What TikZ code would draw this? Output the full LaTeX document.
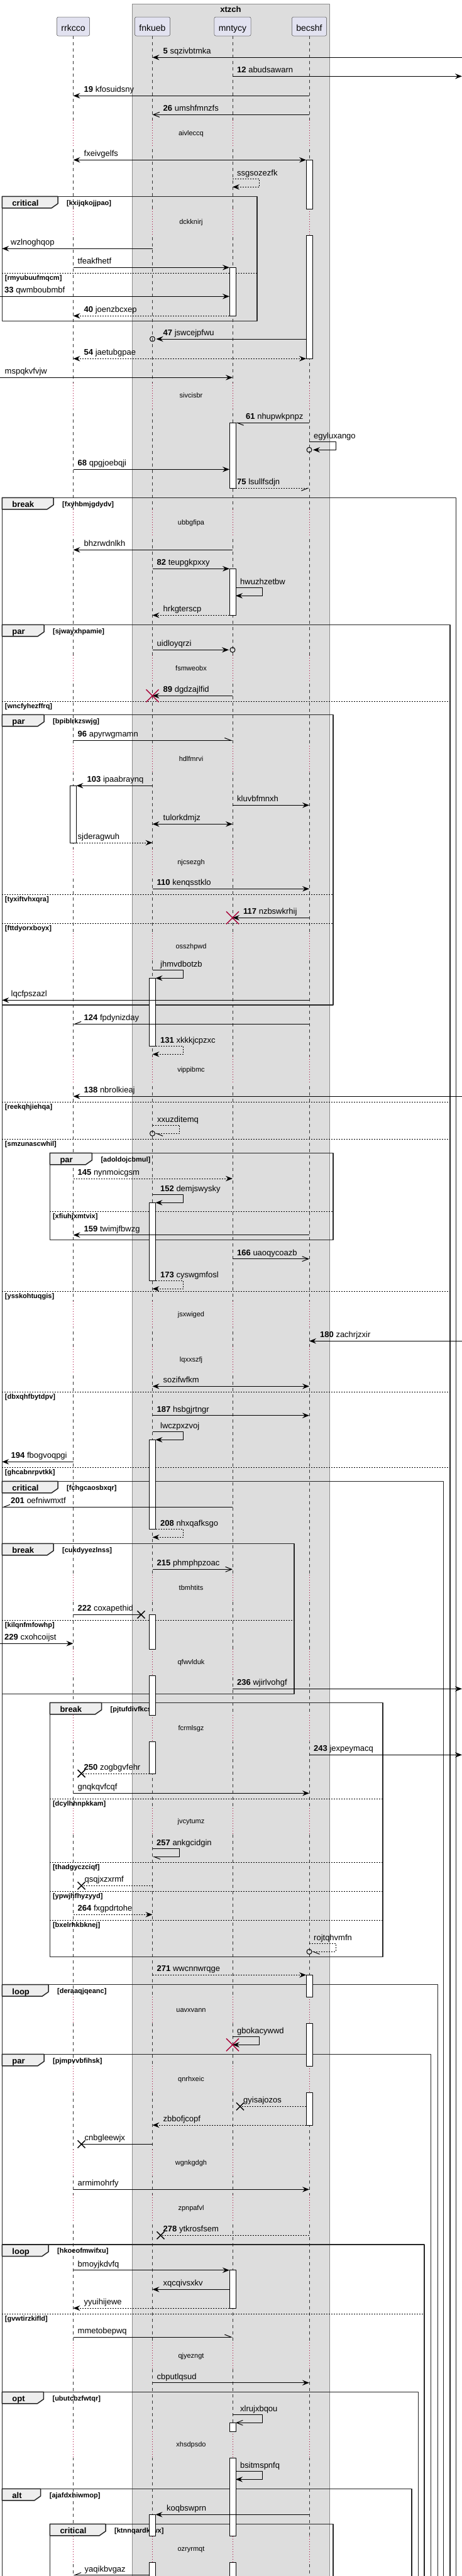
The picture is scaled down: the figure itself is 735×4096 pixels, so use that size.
\documentclass[tikz,border=0pt]{standalone}
\usepackage{fontspec}
\setmainfont{Liberation Sans}
\usetikzlibrary{arrows.meta}
\definecolor{boxgray}{HTML}{DDDDDD}
\definecolor{partfill}{HTML}{E2E2F0}
\definecolor{tabfill}{HTML}{EEEEEE}
\definecolor{dlyred}{HTML}{A80036}
\def\xL{0} \def\xG{3.3} \def\xR{116.5} \def\xF{242.5} \def\xM{370} \def\xB{492} \def\xE{735}
\newcounter{msgno}\newcounter{dlyno}\newcounter{grpno}
\tikzset{
  msgline/.style={line width=1pt},
  dsh/.style={dash pattern=on 2pt off 2pt},
  fa/.style={-{Stealth[length=11pt,width=8.5pt,inset=4pt]}},
  fb/.style={{Stealth[length=11pt,width=8.5pt,inset=4pt]}-{Stealth[length=11pt,width=8.5pt,inset=4pt]}},
  oa/.style={-{Straight Barb[length=10pt,width=8pt]}},
  hl/.style={-{Straight Barb[left,length=10pt,width=8pt]}},
  hr/.style={-{Straight Barb[right,length=10pt,width=8pt]}},
  lbl/.style={font=\fontsize{13}{15}\selectfont, anchor=base west, inner sep=0pt},
  part/.style={draw=black!70, line width=0.5pt, fill=partfill, rounded corners=2.5pt, minimum height=30pt,
    inner xsep=7pt, inner ysep=0pt, text height=16pt, text depth=2pt, font=\fontsize{14}{16}\selectfont},
  life/.style={line width=0.5pt, black!80, dash pattern=on 5pt off 5pt},
  dlyline/.style={line width=0.8pt, dlyred, dash pattern=on 1pt off 3pt},
  dlytxt/.style={font=\fontsize{11}{13}\selectfont, anchor=base, inner sep=0pt},
  actbox/.style={draw=black, fill=white, line width=1pt},
  frm/.style={line width=1.5pt, draw=black!85},
  kindlbl/.style={font=\bfseries\fontsize{13}{15}\selectfont, anchor=base west, inner sep=0pt},
  guardlbl/.style={font=\bfseries\fontsize{11}{13}\selectfont, anchor=west, inner sep=0pt},
  sepline/.style={line width=1pt, dash pattern=on 2pt off 2pt},
  redx/.style={draw=dlyred, line width=1.5pt},
  blkx/.style={draw=black, line width=1.5pt},
}
\newcommand\seqmsg[6][]{%
  \draw[msgline,#1] (#3,#2) -- (#4,#2);
  \stepcounter{msgno}%
  \node[lbl] (m\arabic{msgno}) at (#5,#2-5.5) {#6};}
\newcommand\selfmsg[7][]{%
  \draw[msgline,#1] (#3,#2) -- (#4,#2) -- (#4,#2+13) -- (#5,#2+13);
  \stepcounter{msgno}%
  \node[lbl] (m\arabic{msgno}) at (#6,#2-4.5) {#7};}
\newcommand\actbar[3]{\draw[actbox] (#1-5,#2) rectangle (#1+5,#3);}
\newcommand\dly[2]{%
  \foreach \lx/\bg in {\xR/white,\xF/boxgray,\xM/boxgray,\xB/boxgray}{%
    \fill[\bg] (\lx-1.5,#1-21) rectangle (\lx+1.5,#1+21);
    \draw[dlyline] (\lx,#1-21) -- (\lx,#1+21);}
  \stepcounter{dlyno}%
  \node[dlytxt] (d\arabic{dlyno}) at (304,#1+3) {#2};}
\newcommand\grp[7]{%
  \draw[frm] (#1,#2) rectangle (#3,#4);
  \draw[frm,fill=tabfill] (#1,#2) -- (#5,#2) -- (#5,#2+11.5) -- (#5-10,#2+18.5) -- (#1,#2+18.5) -- cycle;
  \stepcounter{grpno}%
  \node[kindlbl] (k\arabic{grpno}) at (#1+16,#2+15.5) {#6};
  \node[guardlbl] (g\arabic{grpno}) at (#5+14,#2+11) {#7};}
\newcommand\grpsep[4]{%
  \draw[sepline] (#1,#3) -- (#2,#3);
  \stepcounter{grpno}%
  \node[guardlbl] (g\arabic{grpno}) at (#1+4.5,#3+8.4) {#4};}
\newcommand\redx[2]{\draw[redx] (#1-10,#2-10) -- (#1+10,#2+10) (#1-10,#2+10) -- (#1+10,#2-10);}
\newcommand\blackx[2]{\draw[blkx] (#1-6,#2-6) -- (#1+6,#2+6) (#1-6,#2+6) -- (#1+6,#2-6);}
\newcommand\msgcirc[2]{\draw[msgline] (#1,#2) circle (4pt);}
\begin{document}
\begin{tikzpicture}[x=1pt, y=-1pt, line join=round]
    \useasboundingbox (0,0) rectangle (735,4096);
    \clip (0,0) rectangle (735,4096);
    \fill[white] (0,0) rectangle (735,4096);
    % box and lifelines
    \draw[fill=boxgray, draw=black!45] (210,6) rectangle (524,4110);
    \node[font=\bfseries\fontsize{13}{15}\selectfont, anchor=base, inner sep=0pt] (xtzch) at (367,19.3) {xtzch};
    \foreach \lx in {\xR,\xF,\xM,\xB} \draw[life] (\lx,57) -- (\lx,4110);
    \node[part] (rrkcco) at (\xR,42) {rrkcco};
    \node[part] (fnkueb) at (\xF,42) {fnkueb};
    \node[part] (mntycy) at (\xM,42) {mntycy};
    \node[part] (becshf) at (\xB,42) {becshf};
    % delays
    \dly{212}{aivleccq} \dly{353}{dckknirj} \dly{629.7}{sivcisbr} \dly{831}{ubbgfipa}
    \dly{1063.3}{fsmweobx} \dly{1207}{hdlfmrvi} \dly{1371}{njcsezgh} \dly{1505}{osszhpwd}
    \dly{1701.3}{vippibmc} \dly{2090}{jsxwiged} \dly{2162}{lqxxszfj} \dly{2525}{tbmhtits}
    \dly{2643.3}{qfwvlduk} \dly{2748}{fcrmlsgz} \dly{2896.3}{jvcytumz} \dly{3196.3}{uavxvann}
    \dly{3306.3}{qnrhxeic} \dly{3439.3}{wgnkgdgh} \dly{3511}{zpnpafvl} \dly{3746}{qjyezngt}
    \dly{3887.3}{xhsdpsdo} \dly{4053.7}{ozryrmqt}
    % groups
    \grp{\xG}{312.3}{409}{510.3}{92}{critical}{[kxijqkojjpao]}
    \grpsep{\xG}{409}{434.3}{[rmyubuufmqcm]}
    \grp{\xG}{791.3}{725.5}{4110}{85}{break}{[fxyhbmjgdydv]}
    \grp{\xG}{993.3}{716}{4110}{70}{par}{[sjwayxhpamie]}
    \grpsep{\xG}{716}{1115.3}{[wncfyhezffrq]}
    \grp{\xG}{1136.3}{530}{1598}{70}{par}{[bpiblrkzswjg]}
    \grpsep{\xG}{530}{1422}{[tyxiftvhxqra]}
    \grpsep{\xG}{530}{1468}{[fttdyorxboyx]}
    \grpsep{\xG}{716}{1752.3}{[reekqhjiehqa]}
    \grpsep{\xG}{716}{1811}{[smzunascwhil]}
    \grp{79.3}{1833.3}{530}{1971.7}{146.3}{par}{[adoldojcbmul]}
    \grpsep{79.3}{530}{1926.3}{[xfiuhjxmtvix]}
    \grpsep{\xG}{716}{2053}{[ysskohtuqgis]}
    \grpsep{\xG}{716}{2213.3}{[dbxqhfbytdpv]}
    \grpsep{\xG}{716}{2333.3}{[ghcabnrpvtkk]}
    \grp{\xG}{2355.3}{705.6}{4110}{92}{critical}{[fchgcaosbxqr]}
    \grp{\xG}{2454.3}{467.8}{2693.3}{85}{break}{[cukdyyezlnss]}
    \grpsep{\xG}{467.8}{2576.3}{[kilqnfmfowhp]}
    \grp{79.3}{2707.3}{609}{3111.3}{161.5}{break}{[pjtufdivfkcs]}
    \grpsep{79.3}{609}{2860.3}{[dcylhhnpkkam]}
    \grpsep{79.3}{609}{2961.3}{[thadgyczciqf]}
    \grpsep{79.3}{609}{3007.3}{[ypwjhfhyzyyd]}
    \grpsep{79.3}{609}{3053.3}{[bxelrhkbknej]}
    \grp{\xG}{3155.7}{696.3}{4110}{77}{loop}{[deraaqjqeanc]}
    \grp{\xG}{3266.3}{685.4}{4110}{70}{par}{[pjmpvvbfihsk]}
    \grp{\xG}{3569}{675}{4110}{77}{loop}{[hkoeofmwifxu]}
    \grpsep{\xG}{675}{3679}{[gvwtirzkifld]}
    \grp{\xG}{3803.3}{665.6}{4110}{69.4}{opt}{[ubutcbzfwtqr]}
    \grp{\xG}{3957.3}{655}{4110}{64.7}{alt}{[ajafdxhiwmop]}
    \grp{79.3}{4013.3}{530}{4110}{168}{critical}{[ktnnqardkiwx]}
    % activations
    \actbar{\xB}{254.3}{332} \actbar{\xB}{374}{570.3}
    \actbar{\xM}{425.3}{502.3} \actbar{\xM}{672.3}{776.3} \actbar{\xM}{904.3}{978.3}
    \actbar{\xR}{1249.3}{1340}
    \actbar{\xF}{1555.3}{1663.3} \actbar{\xF}{1912.3}{2036.3} \actbar{\xF}{2289.3}{2431.3}
    \actbar{\xF}{2567.3}{2622.3} \actbar{\xF}{2664.3}{2727} \actbar{\xF}{2769}{2820}
    \actbar{\xB}{3140.3}{3175.3} \actbar{\xB}{3217.3}{3285.3} \actbar{\xB}{3327.3}{3379}
    \actbar{\xM}{3609.7}{3670}
    \actbar{\xM}{3852.3}{3866.3} \actbar{\xM}{3908.3}{4032.7} \actbar{\xM}{4074.7}{4110}
    \actbar{\xF}{3998.3}{4032.7} \actbar{\xF}{4074.7}{4110}
    % messages
    \seqmsg[fa]{91.3}{\xE}{\xF}{\xF+17}{\textbf{5} sqzivbtmka}
    \seqmsg[fa]{121.3}{\xM}{\xE}{\xM+7}{\textbf{12} abudsawarn}
    \seqmsg[fa]{152.3}{\xB}{\xR}{\xR+17}{\textbf{19} kfosuidsny}
    \seqmsg[oa]{182.3}{\xB}{\xF}{\xF+17}{\textbf{26} umshfmnzfs}
    \seqmsg[fb]{254.3}{\xR}{\xB-5}{\xR+17}{fxeivgelfs}
    \selfmsg[fa,dsh]{284.3}{\xM}{\xM+42.5}{\xM}{\xM+7}{ssgsozezfk}
    \seqmsg[fa]{395.3}{\xF}{\xG}{17}{wzlnoghqop}
    \seqmsg[fa]{425.3}{\xR}{\xM-5}{\xR+7}{tfeakfhetf}
    \seqmsg[fa]{471.3}{\xL}{\xM-5}{7}{\textbf{33} qwmboubmbf}
    \seqmsg[fa,dsh]{502.3}{\xM-5}{\xR}{\xR+17}{\textbf{40} joenzbcxep}
    \seqmsg[fa]{539}{\xB-5}{\xF+6}{\xF+17}{\textbf{47} jswcejpfwu} \msgcirc{\xF}{539}
    \seqmsg[fb,dsh]{570.3}{\xR}{\xB-5}{\xR+17}{\textbf{54} jaetubgpae}
    \seqmsg[fa]{600.3}{\xL}{\xM}{7.5}{mspqkvfvjw}
    \seqmsg[hl]{672.3}{\xB}{\xM+5}{\xM+21}{\textbf{61} nhupwkpnpz}
    \selfmsg[fa]{702.3}{\xB}{\xB+42}{\xB+6}{\xB+7}{egyluxango} \msgcirc{\xB}{715.3}
    \seqmsg[fa]{746.3}{\xR}{\xM-5}{\xR+7}{\textbf{68} qpgjoebqji}
    \seqmsg[hr,dsh]{776.3}{\xM+5}{\xB}{\xM+7}{\textbf{75} lsullfsdjn}
    \seqmsg[fa]{874.3}{\xM}{\xR}{\xR+17}{bhzrwdnlkh}
    \seqmsg[fa]{904.3}{\xF}{\xM-5}{\xF+7}{\textbf{82} teupgkpxxy}
    \selfmsg[fa]{934.3}{\xM+5}{\xM+47}{\xM+5}{\xM+12}{hwuzhzetbw}
    \seqmsg[fa,dsh]{978.3}{\xM-5}{\xF}{\xF+17}{hrkgterscp}
    \seqmsg[fa]{1033.3}{\xF}{\xM-6}{\xF+7}{uidloyqrzi} \msgcirc{\xM}{1033.3}
    \seqmsg[fa]{1106.3}{\xM}{\xF}{\xF+17}{\textbf{89} dgdzajlfid} \redx{\xF}{1106.3}
    \seqmsg[hl]{1177.3}{\xR}{\xM}{\xR+7}{\textbf{96} apyrwgmamn}
    \seqmsg[fa]{1249.3}{\xF}{\xR+5}{\xR+22}{\textbf{103} ipaabraynq}
    \seqmsg[fa]{1280.3}{\xM}{\xB}{\xM+7}{kluvbfmnxh}
    \seqmsg[fb]{1310.3}{\xF}{\xM}{\xF+17}{tulorkdmjz}
    \seqmsg[fa,dsh]{1340}{\xR+5}{\xF}{\xR+7}{sjderagwuh}
    \seqmsg[fa]{1413.3}{\xF}{\xB}{\xF+7}{\textbf{110} kenqsstklo}
    \seqmsg[fa]{1459.3}{\xB}{\xM}{\xM+17}{\textbf{117} nzbswkrhij} \redx{\xM}{1459.3}
    \selfmsg[fa]{1542.3}{\xF}{\xF+48.5}{\xF+5}{\xF+12.5}{jhmvdbotzb}
    \seqmsg[fa]{1590.3}{\xB}{\xG}{17.5}{lqcfpszazl}
    \seqmsg[hr]{1628.3}{\xB}{\xR}{\xR+17}{\textbf{124} fpdynizday}
    \selfmsg[fa,dsh]{1663.3}{\xF+5}{\xF+48.5}{\xF}{\xF+12.5}{\textbf{131} xkkkjcpzxc}
    \seqmsg[fa]{1743.3}{\xE}{\xR}{\xR+17}{\textbf{138} nbrolkieaj}
    \selfmsg[hl,dsh]{1789.3}{\xF}{\xF+43}{\xF+4}{\xF+7.5}{xxuzditemq} \msgcirc{\xF}{1802.3}
    \seqmsg[fa,dsh]{1874}{\xR}{\xM}{\xR+7}{\textbf{145} nynmoicgsm}
    \selfmsg[fa]{1899.3}{\xF}{\xF+48.5}{\xF+5}{\xF+12.5}{\textbf{152} demjswysky}
    \seqmsg[fa]{1963.7}{\xB}{\xR}{\xR+17}{\textbf{159} twimjfbwzg}
    \seqmsg[oa]{2001.7}{\xM}{\xB}{\xM+7}{\textbf{166} uaoqycoazb}
    \selfmsg[fa,dsh]{2036.3}{\xF+5}{\xF+48.5}{\xF}{\xF+12.5}{\textbf{173} cyswgmfosl}
    \seqmsg[fa]{2132.3}{\xE}{\xB}{\xB+17}{\textbf{180} zachrjzxir}
    \seqmsg[fb]{2204.3}{\xF}{\xB}{\xF+17}{sozifwfkm}
    \seqmsg[fa]{2250.7}{\xF}{\xB}{\xF+7}{\textbf{187} hsbgjrtngr}
    \selfmsg[fa]{2276.3}{\xF}{\xF+48.5}{\xF+5}{\xF+12.5}{lwczpxzvoj}
    \seqmsg[fa]{2324.3}{\xR}{\xG}{17.5}{\textbf{194} fbogvoqpgi}
    \seqmsg[hr]{2396.3}{\xM}{\xG}{17}{\textbf{201} oefniwmxtf}
    \selfmsg[fa,dsh]{2431.3}{\xF+5}{\xF+48.5}{\xF}{\xF+12.5}{\textbf{208} nhxqafksgo}
    \seqmsg[oa]{2495.3}{\xF}{\xM}{\xF+7}{\textbf{215} phmphpzoac}
    \seqmsg{2567.3}{\xR}{\xF-18}{\xR+7}{\textbf{222} coxapethid} \blackx{\xF-18}{2567.3}
    \seqmsg[fa]{2613.3}{\xL}{\xR}{7}{\textbf{229} cxohcoijst}
    \seqmsg[fa]{2685.3}{\xM}{\xE}{\xM+7}{\textbf{236} wjirlvohgf}
    \seqmsg[fa]{2790.3}{\xB}{\xE}{\xB+7}{\textbf{243} jexpeymacq}
    \seqmsg[dsh]{2820}{\xF-5}{\xR+13}{\xR+17}{\textbf{250} zogbgvfehr} \blackx{\xR+13}{2820}
    \seqmsg[fa]{2851.3}{\xR}{\xB}{\xR+7}{gnqkqvfcqf}
    \selfmsg[hl]{2939.3}{\xF}{\xF+43}{\xF}{\xF+6.5}{\textbf{257} ankgcidgin}
    \seqmsg[dsh]{2998.3}{\xF}{\xR+13}{\xR+18}{qsqjxzxrmf} \blackx{\xR+13}{2998.3}
    \seqmsg[fa,dsh]{3044.3}{\xR}{\xF}{\xR+7}{\textbf{264} fxgpdrtohe}
    \selfmsg[hl,dsh]{3090.3}{\xB}{\xB+42}{\xB+4}{\xB+7}{rojtqhvmfn} \msgcirc{\xB}{3103.3}
    \seqmsg[fa,dsh]{3140.3}{\xF}{\xB-5}{\xF+7}{\textbf{271} wwcnnwrqge}
    \selfmsg[fa]{3238.3}{\xM}{\xM+42.5}{\xM}{\xM+7}{gbokacywwd} \redx{\xM}{3251.3}
    \seqmsg[dsh]{3349.3}{\xB-5}{\xM+12}{\xM+17}{gyisajozos} \blackx{\xM+12}{3349.3}
    \seqmsg[fa,dsh]{3379}{\xB-5}{\xF}{\xF+17}{zbbofjcopf}
    \seqmsg{3409.3}{\xF}{\xR+13}{\xR+18}{cnbgleewjx} \blackx{\xR+13}{3409.3}
    \seqmsg[fa]{3481.3}{\xR}{\xB}{\xR+7}{armimohrfy}
    \seqmsg[dsh]{3554.3}{\xB}{\xF+13}{\xF+17}{\textbf{278} ytkrosfsem} \blackx{\xF+13}{3554.3}
    \seqmsg[fa]{3609.7}{\xR}{\xM-5}{\xR+7}{bmoyjkdvfq}
    \seqmsg[fa]{3640.3}{\xM-5}{\xF}{\xF+17}{xqcqivsxkv}
    \seqmsg[fa,dsh]{3670}{\xM-5}{\xR}{\xR+17}{yyuihijewe}
    \seqmsg[hl]{3716}{\xR}{\xM}{\xR+7}{mmetobepwq}
    \seqmsg[fa]{3788.7}{\xF}{\xB}{\xF+7}{cbputlqsud}
    \selfmsg[oa]{3839.3}{\xM}{\xM+47}{\xM+5}{\xM+12}{xlrujxbqou}
    \selfmsg[fa]{3929.3}{\xM+5}{\xM+47}{\xM+5}{\xM+12}{bsitmspnfq}
    \seqmsg[fa]{3998.3}{\xB}{\xF+5}{\xF+22.5}{koqbswprn}
    \seqmsg[hr]{4094.5}{\xF-5}{\xR}{\xR+18}{yaqikbvgaz}
\end{tikzpicture}
\end{document}
